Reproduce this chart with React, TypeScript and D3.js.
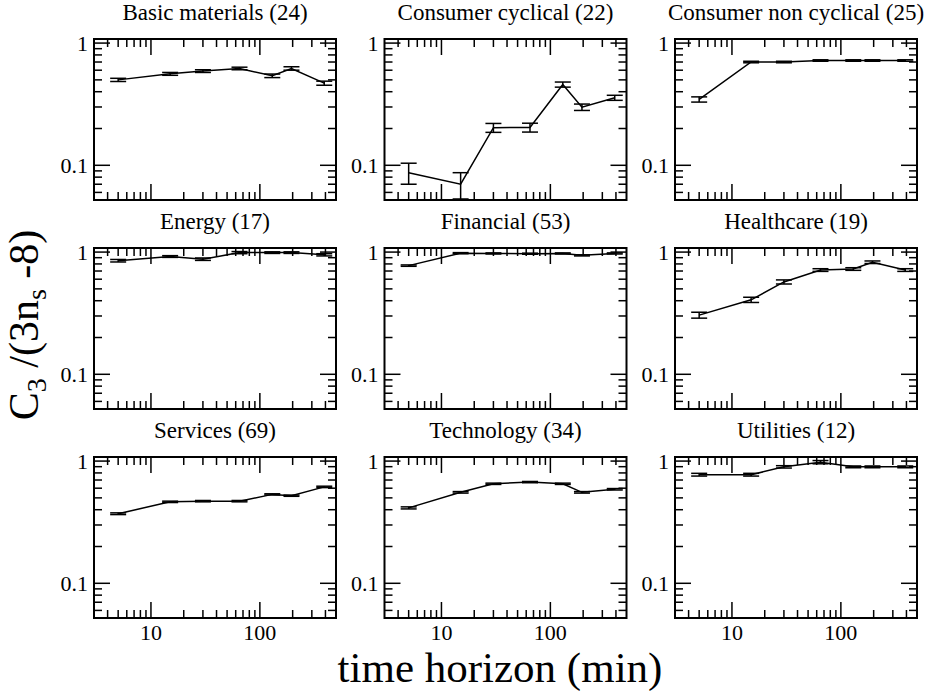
import * as d3 from "d3";

// time horizons in minutes (1/78 ... 1 trading day)
const horizons = [5, 15, 30, 65, 130, 195, 390];

const sectorNames = [
    "Basic materials", "Consumer cyclical", "Consumer non cyclical",
    "Energy", "Financial", "Healthcare",
    "Services", "Technology", "Utilities",
];
const stockCounts = [24, 22, 25, 17, 53, 19, 69, 34, 12];

const basicMaterials = [0.50, 0.56, 0.59, 0.62, 0.54, 0.62, 0.47];
const basicMaterialsErr = [0.015, 0.015, 0.015, 0.015, 0.018, 0.02, 0.018];
const consumerCyclical = [0.087, 0.070, 0.203, 0.204, 0.458, 0.299, 0.357];
const consumerCyclicalErr = [0.017, 0.017, 0.017, 0.017, 0.022, 0.018, 0.017];
const consumerNonCyclical = [0.346, 0.70, 0.70, 0.72, 0.72, 0.72, 0.72];
const consumerNonCyclicalErr = [0.017, 0.01, 0.01, 0.01, 0.01, 0.01, 0.01];
const energy = [0.85, 0.92, 0.875, 0.99, 0.99, 0.99, 0.95];
const energyErr = [0.02, 0.015, 0.02, 0.02, 0.015, 0.015, 0.02];
const financial = [0.775, 0.98, 0.975, 0.97, 0.975, 0.94, 0.975];
const financialErr = [0.01, 0.01, 0.01, 0.01, 0.01, 0.01, 0.01];
const healthcare = [0.305, 0.407, 0.57, 0.713, 0.727, 0.826, 0.713];
const healthcareErr = [0.017, 0.02, 0.022, 0.018, 0.018, 0.02, 0.018];
const services = [0.371, 0.464, 0.47, 0.47, 0.534, 0.521, 0.615];
const servicesErr = [0.006, 0.006, 0.006, 0.006, 0.006, 0.006, 0.008];
const technology = [0.414, 0.555, 0.652, 0.673, 0.652, 0.555, 0.588];
const technologyErr = [0.008, 0.008, 0.008, 0.008, 0.008, 0.008, 0.008];
const utilities = [0.774, 0.774, 0.897, 0.98, 0.897, 0.897, 0.897];
const utilitiesErr = [0.02, 0.02, 0.02, 0.03, 0.015, 0.015, 0.015];

const sectorValues = [
    basicMaterials, consumerCyclical, consumerNonCyclical,
    energy, financial, healthcare,
    services, technology, utilities,
];
const sectorErrors = [
    basicMaterialsErr, consumerCyclicalErr, consumerNonCyclicalErr,
    energyErr, financialErr, healthcareErr,
    servicesErr, technologyErr, utilitiesErr,
];

const xLabelTicks = [10, 100];
const yLabelTicks = [0.1, 1];

const WIDTH = 927;
const HEIGHT = 692;
const MARGIN = {top: 39, left: 94};
const PANEL_W = 242;
const PANEL_H = 161;
const GAP_X = 48.5;
const GAP_Y = 48;
const FONT = "'Liberation Serif', 'Times New Roman', serif";

const xScale = d3.scaleLog().domain([3, 500]).range([0, PANEL_W]);
const yScale = d3.scaleLog().domain([0.052, 1.08]).range([PANEL_H, 0]);

const isMajor = (v: number) => Math.abs(Math.log10(v) - Math.round(Math.log10(v))) < 1e-9;

const line = d3
    .line<number>()
    .x((_, i) => xScale(horizons[i]))
    .y((d) => yScale(d));

function Panel({index}: {index: number}) {
    const row = Math.floor(index / 3);
    const col = index % 3;
    const left = MARGIN.left + col * (PANEL_W + GAP_X);
    const top = MARGIN.top + row * (PANEL_H + GAP_Y);
    const values = sectorValues[index];
    const errors = sectorErrors[index];

    const xTicks = xScale.ticks().filter((t) => t > 3 && t < 500);
    const yTicks = yScale.ticks().filter((t) => t > 0.052 && t < 1.08);

    return (
        <g transform={`translate(${left},${top})`}>
            <text
                x={PANEL_W / 2}
                y={-19}
                textAnchor="middle"
                fontSize={23}
                fontFamily={FONT}
            >
                {`${sectorNames[index]} (${stockCounts[index]})`}
            </text>

            {/* ticks on all four sides, pointing in */}
            {xTicks.map((t) => {
                const len = isMajor(t) ? 16 : 8;
                const x = xScale(t);
                return (
                    <g key={`x${t}`} stroke="black" strokeWidth={1.5}>
                        <line x1={x} x2={x} y1={PANEL_H} y2={PANEL_H - len}/>
                        <line x1={x} x2={x} y1={0} y2={len}/>
                    </g>
                );
            })}
            {yTicks.map((t) => {
                const len = isMajor(t) ? 16 : 8;
                const y = yScale(t);
                return (
                    <g key={`y${t}`} stroke="black" strokeWidth={1.5}>
                        <line x1={0} x2={len} y1={y} y2={y}/>
                        <line x1={PANEL_W} x2={PANEL_W - len} y1={y} y2={y}/>
                    </g>
                );
            })}

            {yLabelTicks.map((t) => (
                <text
                    key={`yl${t}`}
                    x={-6}
                    y={yScale(t)}
                    textAnchor="end"
                    dominantBaseline="central"
                    fontSize={22}
                    fontFamily={FONT}
                >
                    {t}
                </text>
            ))}
            {row === 2 &&
                xLabelTicks.map((t) => (
                    <text
                        key={`xl${t}`}
                        x={xScale(t)}
                        y={PANEL_H + 21.5}
                        textAnchor="middle"
                        fontSize={22}
                        fontFamily={FONT}
                    >
                        {t}
                    </text>
                ))}

            <path d={line(values) ?? ""} fill="none" stroke="black" strokeWidth={1.5}/>

            {values.map((v, i) => {
                const x = xScale(horizons[i]);
                const y1 = yScale(v + errors[i]);
                const y2 = yScale(v - errors[i]);
                return (
                    <g key={i} stroke="black" strokeWidth={1.5}>
                        <line x1={x} x2={x} y1={y1} y2={y2}/>
                        <line x1={x - 8} x2={x + 8} y1={y1} y2={y1}/>
                        <line x1={x - 8} x2={x + 8} y1={y2} y2={y2}/>
                    </g>
                );
            })}

            <rect width={PANEL_W} height={PANEL_H} fill="none" stroke="black" strokeWidth={2}/>
        </g>
    );
}

export default function App() {
    return (
        <svg
            width={WIDTH}
            height={HEIGHT}
            style={{position: "absolute", left: 0, top: 0, background: "white"}}
        >
            {sectorNames.map((_, i) => (
                <Panel key={i} index={i}/>
            ))}

            <text
                transform="translate(38,325) rotate(-90)"
                textAnchor="middle"
                fontSize={42}
                fontFamily={FONT}
            >
                C
                <tspan fontSize={28} dy={8}>3</tspan>
                <tspan dy={-8}>{" /(3n"}</tspan>
                <tspan fontSize={28} dy={8}>s</tspan>
                <tspan dy={-8}>{" -8)"}</tspan>
            </text>

            <text
                x={500}
                y={682}
                textAnchor="middle"
                fontSize={43}
                fontFamily={FONT}
            >
                time horizon (min)
            </text>
        </svg>
    );
}
